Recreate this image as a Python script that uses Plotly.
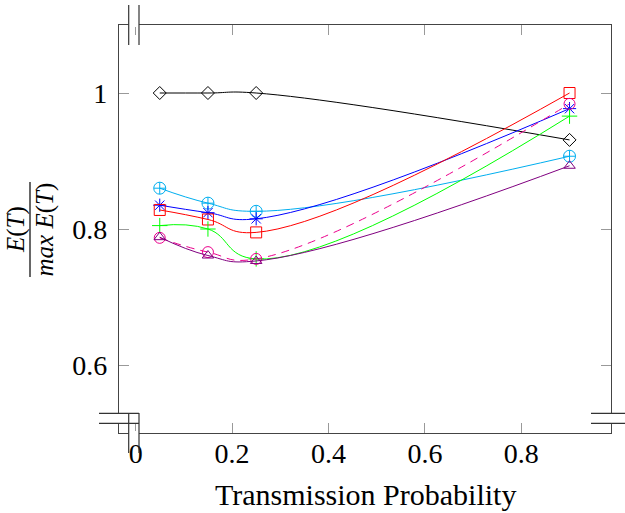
import plotly.graph_objects as go

# Transmission probabilities tested
x_prob = [0.05, 0.15, 0.25, 0.9]

# Normalised expected value E(T)/max E(T) per configuration
s_black = [1.0, 1.0, 1.0, 0.931]
s_cyan = [0.860, 0.838, 0.826, 0.907]
s_blue = [0.835, 0.824, 0.815, 0.977]
s_red = [0.828, 0.814, 0.795, 1.0]
s_green = [0.805, 0.800, 0.756, 0.966]
s_magenta = [0.787, 0.766, 0.756, 0.984]
s_violet = [0.788, 0.761, 0.753, 0.893]

x_ticks = [0, 0.2, 0.4, 0.6, 0.8]
x_ticktext = ["0", "0.2", "0.4", "0.6", "0.8"]
y_ticks = [0.6, 0.8, 1.0]
y_ticktext = ["0.6", "0.8", "1"]

FONT = "Liberation Serif, Times New Roman, Times, serif"
W, H = 625, 513
PX0, PX1, PY0, PY1 = 119, 611, 25, 433  # plot area in pixels


def px(v):
    return (v - PX0) / (PX1 - PX0)


def py(v):
    return (PY1 - v) / (PY1 - PY0)


series = [
    (s_black, "black", "diamond-open", 10, "solid"),
    (s_cyan, "#00aeef", "circle-cross-open", 12, "solid"),
    (s_blue, "#0000ff", "asterisk-open", 11, "solid"),
    (s_red, "#ff0000", "square-open", 11, "solid"),
    (s_green, "#00ff00", "cross-thin-open", 11, "solid"),
    (s_magenta, "#ec008c", "circle-open", 11, "8px,6px"),
    (s_violet, "#800080", "triangle-up-open", 10, "solid"),
]

fig = go.Figure()
for ys, col, sym, size, dash in series:
    fig.add_trace(go.Scatter(
        x=x_prob, y=ys, mode="lines+markers",
        line=dict(color=col, width=1, shape="spline", smoothing=1.3, dash=dash),
        marker=dict(symbol=sym, size=size, color=col, line=dict(color=col, width=1)),
        showlegend=False, hoverinfo="skip",
    ))

axis_common = dict(
    showline=True, linecolor="#444", linewidth=1.2, mirror="ticks",
    ticks="inside", ticklen=10, tickcolor="#999", tickwidth=1,
    showgrid=False, zeroline=False, automargin=False,
    tickfont=dict(family=FONT, size=28, color="black"),
)

fig.update_xaxes(range=[-0.0345, 0.986], tickvals=x_ticks, ticktext=x_ticktext,
                 ticklabelstandoff=-5, **axis_common)
fig.update_yaxes(range=[0.5, 1.1], tickvals=y_ticks, ticktext=y_ticktext,
                 ticklabelstandoff=5, **axis_common)

shapes = []
brk = dict(color="#333", width=1.2)
# x-axis break marks (top and bottom edges)
for yc in (PY0, PY1):
    shapes.append(dict(type="rect", xref="paper", yref="paper",
                       x0=px(128.7), x1=px(139), y0=py(yc - 2), y1=py(yc + 2),
                       fillcolor="white", line=dict(width=0), layer="above"))
    for xv in (128.7, 139):
        shapes.append(dict(type="line", xref="paper", yref="paper",
                           x0=px(xv), x1=px(xv), y0=py(yc - 20), y1=py(yc + 20),
                           line=brk, layer="above"))
# y-axis break marks (left and right edges)
for xc in (PX0, PX1):
    shapes.append(dict(type="rect", xref="paper", yref="paper",
                       x0=px(xc - 2), x1=px(xc + 2), y0=py(413.5), y1=py(423),
                       fillcolor="white", line=dict(width=0), layer="above"))
    for yv in (413.3, 423.3):
        shapes.append(dict(type="line", xref="paper", yref="paper",
                           x0=px(xc - 20), x1=px(xc + 20), y0=py(yv), y1=py(yv),
                           line=brk, layer="above"))
# fraction bar of the y-axis label
shapes.append(dict(type="line", xref="paper", yref="paper",
                   x0=px(30), x1=px(30), y0=py(182), y1=py(277),
                   line=dict(color="black", width=1.2)))

annotations = [
    dict(text="<i>E</i>(<i>T</i>)", xref="paper", yref="paper",
         x=px(16), y=py(230), textangle=-90, showarrow=False,
         xanchor="center", yanchor="middle",
         font=dict(family=FONT, size=25, color="black")),
    dict(text="<i>max E</i>(<i>T</i>)", xref="paper", yref="paper",
         x=px(44), y=py(229.5), textangle=-90, showarrow=False,
         xanchor="center", yanchor="middle",
         font=dict(family=FONT, size=25, color="black")),
    dict(text="Transmission Probability", xref="paper", yref="paper",
         x=0.5, y=py(495), showarrow=False, xanchor="center", yanchor="middle",
         font=dict(family=FONT, size=30, color="black")),
]

fig.update_layout(
    width=W, height=H,
    margin=dict(l=PX0, r=W - PX1, t=PY0, b=H - PY1, pad=0),
    paper_bgcolor="white", plot_bgcolor="white",
    shapes=shapes, annotations=annotations,
)

fig.write_html("out.html", config={"displayModeBar": False})
